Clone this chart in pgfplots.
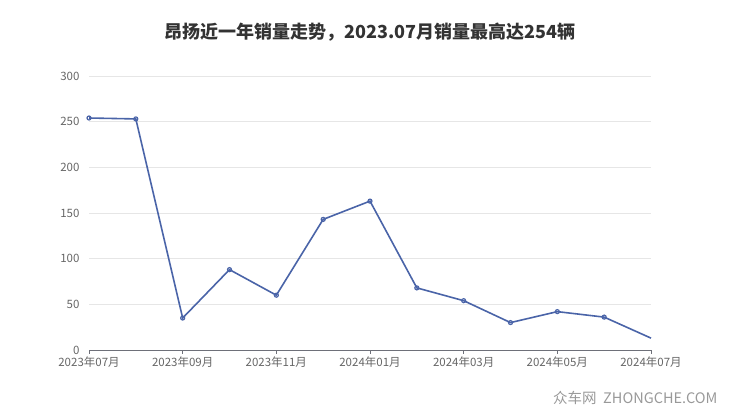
\documentclass[border=0pt]{standalone}
\usepackage{fontspec}
\setmainfont{Noto Sans CJK SC}
\usepackage{pgfplots}
\pgfplotsset{compat=1.18}
\definecolor{linec}{HTML}{4A64A8}
\definecolor{gridc}{HTML}{E6E6E6}
\definecolor{tickc}{HTML}{666666}
\definecolor{axisc}{HTML}{6E7079}

\begin{document}
\begin{tikzpicture}
\useasboundingbox (0pt,0pt) rectangle (740pt,417pt);
\begin{axis}[
    at={(89pt,67pt)}, anchor=origin,
    scale only axis,
    width=562pt, height=274pt,
    xmin=0, xmax=12,
    ymin=0, ymax=300,
    xtick={0,2,4,6,8,10,12},
    xticklabels={2023年07月,2023年09月,2023年11月,2024年01月,2024年03月,2024年05月,2024年07月},
    ytick={0,50,100,150,200,250,300},
    axis x line=bottom,
    axis y line=left,
    y axis line style={draw=none},
    x axis line style={axisc, -, line width=0.8pt},
    xtick style={axisc, line width=0.8pt},
    ytick style={draw=none},
    tick align=outside,
    major tick length=4pt,
    ymajorgrids,
    grid style={gridc, line width=0.8pt},
    tick label style={tickc, font=\fontsize{11.5}{13}\selectfont},
    /pgf/number format/assume math mode=true,
    yticklabel style={xshift=-2pt},
    xticklabel style={yshift=1pt},
    clip=false,
]
\addplot [linec, line width=1.6pt, mark=o, mark size=2pt, mark options={fill=white, line width=1.2pt}]
  coordinates {
    (0,254) (1,253) (2,35) (3,88) (4,60) (5,143) (6,163)
    (7,68) (8,54) (9,30) (10,42) (11,36)
  };
\addplot [linec, line width=1.6pt, mark=none]
  coordinates { (11,36) (12,13) };
\end{axis}
\node[font=\fontsize{18}{21}\bfseries\selectfont, text=black!80] at (370pt,385pt) {昂扬近一年销量走势，2023.07月销量最高达254辆};
\node[anchor=east, font=\fontsize{14.5}{16}\selectfont, text=black!40] at (721pt,19pt) {众车网\ \ ZHONGCHE.COM};
\end{tikzpicture}
\end{document}
